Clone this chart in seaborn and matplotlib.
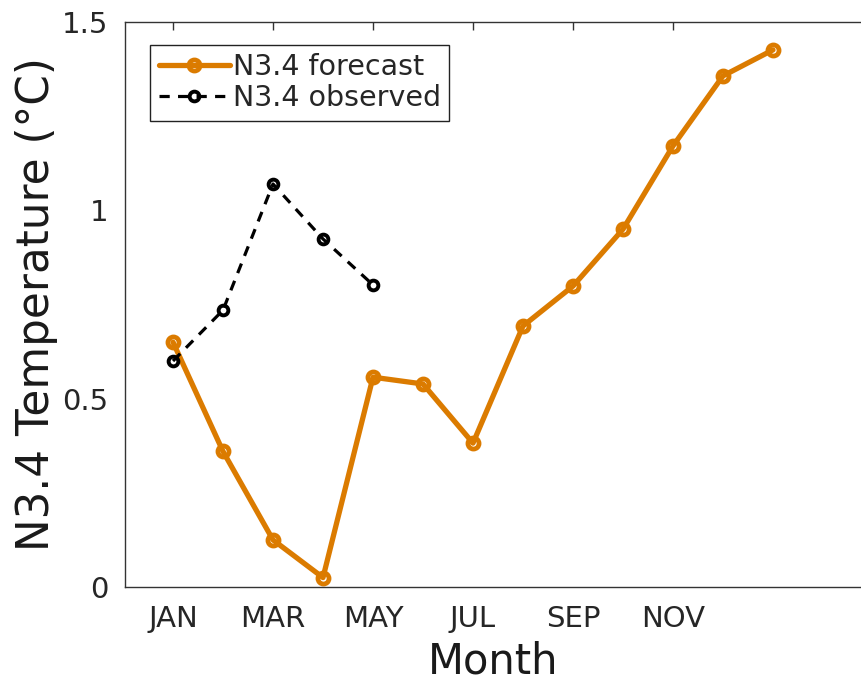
import matplotlib
matplotlib.use("Agg")
import matplotlib.pyplot as plt
import seaborn as sns
import pandas as pd

# Monthly Niño 3.4 anomalies (°C)
forecast_month = [1, 2, 3, 4, 5, 6, 7, 8, 9, 10, 11, 12, 13]
forecast_temp = [0.65, 0.36, 0.125, 0.025, 0.557, 0.539, 0.382, 0.693, 0.799, 0.950, 1.171, 1.357, 1.426]

observed_month = [1, 2, 3, 4, 5]
observed_temp = [0.600, 0.735, 1.070, 0.924, 0.802]

tick_positions = [1, 3, 5, 7, 9, 11]
tick_labels = ["JAN", "MAR", "MAY", "JUL", "SEP", "NOV"]
ytick_values = [0, 0.5, 1, 1.5]
ytick_labels = ["0", "0.5", "1", "1.5"]

ORANGE = "#DB7B00"

sns.set_style("white")
plt.rcParams["font.family"] = ["DejaVu Sans"]

fig = plt.figure(figsize=(8.62, 6.89), dpi=100)
ax = fig.add_axes([125 / 862, 102 / 689, 736 / 862, 565 / 689])

fc = pd.DataFrame({"month": forecast_month, "temp": forecast_temp})
ob = pd.DataFrame({"month": observed_month, "temp": observed_temp})

sns.lineplot(data=fc, x="month", y="temp", ax=ax, color=ORANGE, linewidth=3.8,
             marker="o", markersize=8, markerfacecolor="none",
             markeredgecolor=ORANGE, markeredgewidth=3.4, label="N3.4 forecast")
sns.lineplot(data=ob, x="month", y="temp", ax=ax, color="black", linewidth=2.3,
             linestyle=(0, (3.2, 2.6)), marker="o", markersize=7,
             markerfacecolor="none", markeredgecolor="black",
             markeredgewidth=2.8, label="N3.4 observed")

ax.set_xlim(0.04, 14.76)
ax.set_ylim(0, 1.5)
ax.set_xticks(tick_positions)
ax.set_xticklabels(tick_labels)
ax.set_yticks(ytick_values)
ax.set_yticklabels(ytick_labels)

ax.tick_params(axis="both", direction="in", length=6, width=1, colors="#333333",
               labelsize=21, labelcolor="#262626")
ax.tick_params(axis="x", top=True, pad=13)
ax.tick_params(axis="y", pad=12)

for side in ["left", "bottom", "top"]:
    ax.spines[side].set_visible(True)
    ax.spines[side].set_color("#333333")
    ax.spines[side].set_linewidth(1.0)
ax.spines["right"].set_visible(False)

ax.set_xlabel("Month", fontsize=30, color="#1a1a1a", labelpad=5)
ax.set_ylabel("N3.4 Temperature (°C)", fontsize=31.5, color="#1a1a1a", labelpad=3)

leg = ax.legend(loc="upper left", bbox_to_anchor=(0.034, 0.96), fontsize=20.5,
                frameon=True, fancybox=False, framealpha=1, edgecolor="#222222",
                handlelength=2.5, handletextpad=0.1, borderpad=0.3,
                labelspacing=0.1, borderaxespad=0)
leg.get_frame().set_linewidth(1.0)

fig.savefig("out.png", dpi=100)
